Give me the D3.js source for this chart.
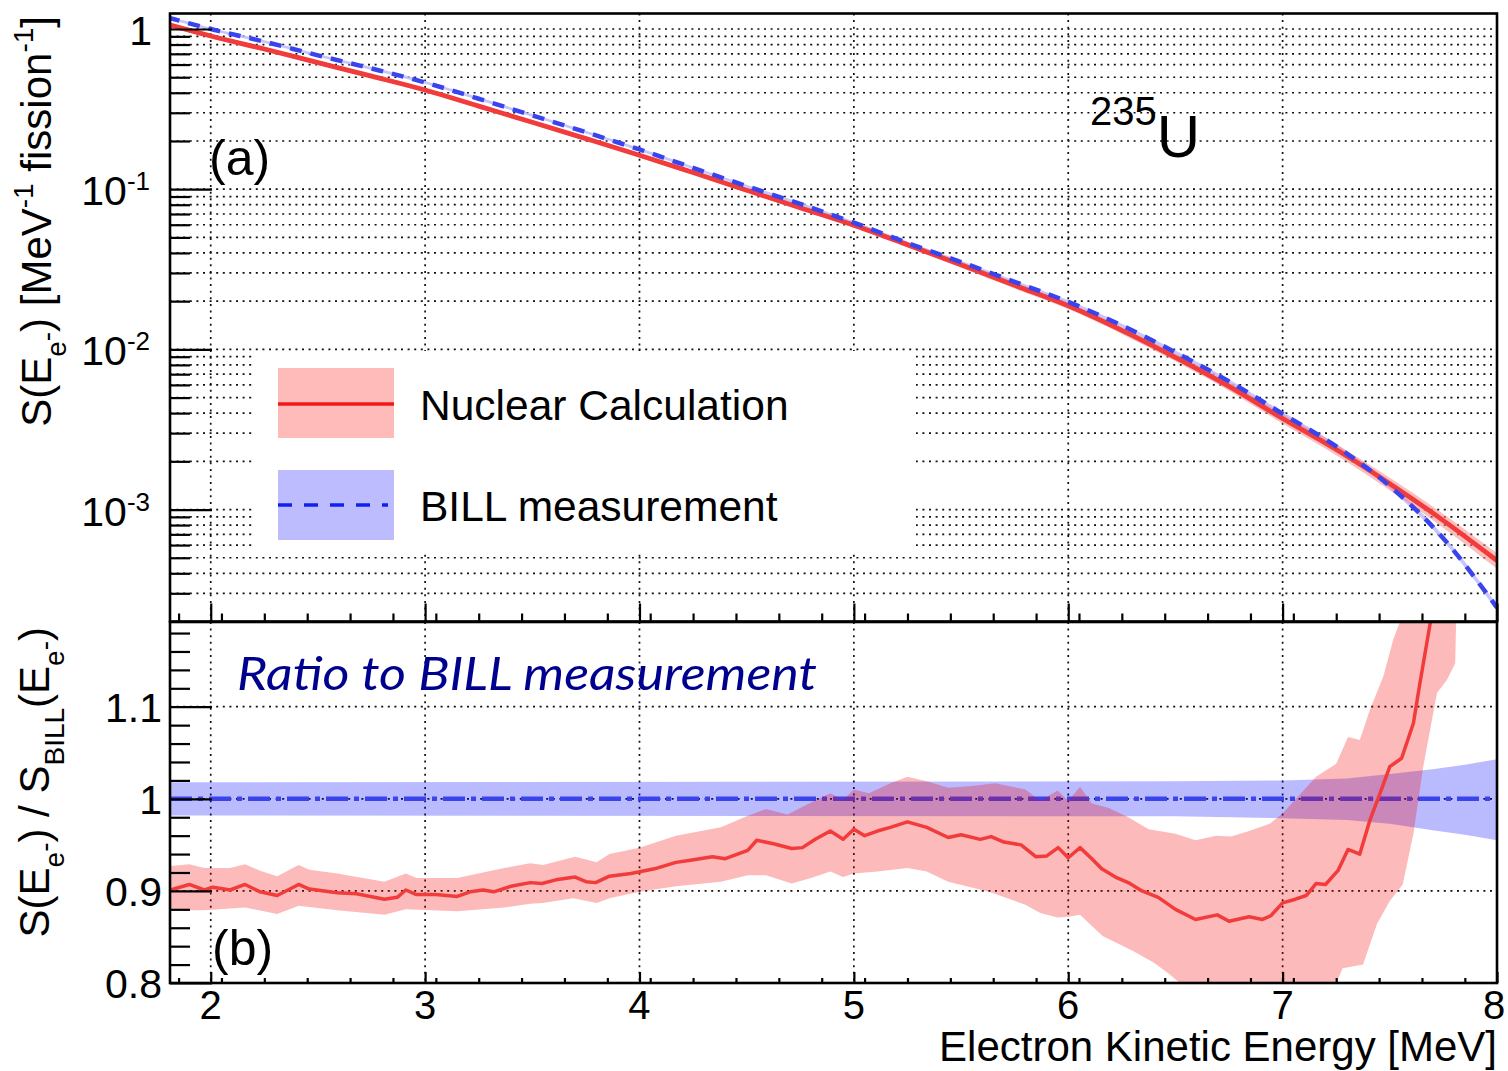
<!DOCTYPE html>
<html>
<head>
<meta charset="utf-8">
<script src="https://cdn.jsdelivr.net/npm/d3@7"></script>
<style>
  body { margin: 0; background: #fff; }
  svg { display: block; }
  text { font-family: "Liberation Sans", Arial, Helvetica, sans-serif; fill: #000; }
</style>
</head>
<body>
<svg id="chart" width="1508" height="1071"></svg>
<script>
// ---------- Electron spectrum (panel a), MeV^-1 fission^-1 ----------
const spectrumEnergy = [1.8, 2.0, 2.25, 2.5, 2.75, 3.0, 3.25, 3.5, 3.75, 4.0, 4.25, 4.5, 4.75,
  5.0, 5.25, 5.5, 5.75, 6.0, 6.25, 6.5, 6.75, 7.0, 7.25, 7.5, 7.75, 8.0];
const nuclearSpectrum = [1.067, 0.904, 0.750, 0.617, 0.508, 0.416, 0.330, 0.262, 0.207, 0.163,
  0.127, 0.0986, 0.0766, 0.0596, 0.0450, 0.0337, 0.0251, 0.0187, 0.01315, 0.00891, 0.00587,
  0.00370, 0.00237, 0.00145, 0.000853, 0.000480];
const billSpectrum = [1.18, 1.00, 0.834, 0.685, 0.567, 0.464, 0.367, 0.289, 0.227, 0.177,
  0.136, 0.1045, 0.0809, 0.0618, 0.0462, 0.0351, 0.0264, 0.0198, 0.0141, 0.00958, 0.00631,
  0.00396, 0.00248, 0.00140, 0.000660, 0.000244];
// relative half-widths of the uncertainty bands, percent
const nuclearBandPct = [3, 3, 3, 3, 3, 3, 3, 3, 3, 3, 3, 3.2, 3.4, 3.6, 3.8, 4, 4.3, 4.6, 5,
  5.5, 6, 7, 8, 9, 10, 11];
const billBandPct = [2, 2, 2, 2, 2, 2, 2, 2, 2, 2, 2, 2, 2, 2, 2, 2, 2, 2.2, 2.4, 2.6, 2.8, 3,
  3.3, 3.6, 4, 4.5];

// ---------- Ratio to BILL (panel b): [energy, ratio] ----------
const ratioLine = [[1.81,0.901],[1.90,0.907],[1.97,0.901],[2.01,0.904],[2.09,0.901],[2.16,0.907],
  [2.23,0.899],[2.31,0.895],[2.41,0.907],[2.46,0.902],[2.59,0.898],[2.68,0.897],[2.81,0.891],
  [2.87,0.893],[2.91,0.901],[2.96,0.896],[3.05,0.896],[3.15,0.894],[3.21,0.899],[3.27,0.901],
  [3.32,0.899],[3.40,0.905],[3.49,0.909],[3.545,0.908],[3.61,0.912],[3.70,0.915],[3.75,0.910],
  [3.795,0.909],[3.86,0.916],[3.96,0.919],[4.07,0.924],[4.17,0.931],[4.23,0.933],[4.34,0.937],
  [4.40,0.935],[4.505,0.944],[4.547,0.955],[4.63,0.951],[4.71,0.946],[4.76,0.947],[4.82,0.956],
  [4.89,0.965],[4.95,0.956],[5.0,0.967],[5.05,0.960],[5.11,0.965],[5.17,0.969],[5.25,0.975],
  [5.34,0.969],[5.44,0.958],[5.50,0.961],[5.59,0.956],[5.64,0.959],[5.70,0.953],[5.78,0.950],
  [5.85,0.937],[5.90,0.938],[5.953,0.947],[6.0,0.936],[6.055,0.947],[6.11,0.935],[6.156,0.924],
  [6.22,0.915],[6.28,0.909],[6.344,0.900],[6.42,0.893],[6.5,0.880],[6.594,0.869],[6.695,0.874],
  [6.75,0.867],[6.844,0.872],[6.906,0.869],[6.945,0.873],[7.0,0.887],[7.06,0.891],[7.11,0.895],
  [7.156,0.908],[7.20,0.907],[7.258,0.922],[7.305,0.945],[7.36,0.940],[7.406,0.976],[7.453,1.005],
  [7.5,1.035],[7.555,1.044],[7.61,1.082],[7.64,1.125],[7.69,1.193],[7.72,1.24]];
const ratioBandUpper = [[1.81,0.927],[1.90,0.929],[1.97,0.925],[2.09,0.925],[2.16,0.929],[2.23,0.922],
  [2.31,0.916],[2.41,0.928],[2.46,0.923],[2.59,0.919],[2.81,0.910],[2.91,0.919],[2.96,0.914],
  [3.15,0.914],[3.27,0.920],[3.37,0.925],[3.49,0.930],[3.55,0.928],[3.70,0.937],[3.80,0.931],
  [3.86,0.940],[4.0,0.947],[4.17,0.960],[4.38,0.969],[4.50,0.981],[4.59,0.989],[4.69,0.983],
  [4.80,0.996],[4.89,1.006],[4.95,0.999],[5.0,1.010],[5.07,1.006],[5.17,1.017],[5.25,1.024],
  [5.34,1.019],[5.44,1.012],[5.55,1.014],[5.66,1.017],[5.80,1.010],[5.87,0.998],[5.95,1.009],
  [6.0,0.998],[6.055,1.013],[6.11,0.995],[6.19,0.990],[6.28,0.980],[6.375,0.967],[6.5,0.962],
  [6.594,0.955],[6.69,0.960],[6.76,0.959],[6.844,0.965],[6.94,0.973],[7.0,0.984],[7.09,1.007],
  [7.156,1.024],[7.25,1.038],[7.305,1.067],[7.36,1.064],[7.406,1.096],[7.47,1.133],[7.516,1.173],
  [7.56,1.20],[7.6,1.25]];
const ratioBandLower = [[1.81,0.879],[1.97,0.879],[2.16,0.882],[2.31,0.875],[2.41,0.884],[2.59,0.879],
  [2.81,0.874],[2.91,0.880],[3.15,0.878],[3.37,0.882],[3.49,0.886],[3.55,0.887],[3.69,0.892],
  [3.80,0.887],[3.86,0.892],[4.0,0.899],[4.17,0.905],[4.38,0.910],[4.505,0.917],[4.59,0.917],
  [4.71,0.908],[4.80,0.914],[4.89,0.921],[4.95,0.915],[5.0,0.919],[5.11,0.921],[5.25,0.925],
  [5.34,0.921],[5.44,0.910],[5.63,0.899],[5.80,0.885],[5.87,0.876],[5.95,0.871],[6.0,0.872],
  [6.055,0.874],[6.16,0.851],[6.30,0.835],[6.40,0.822],[6.47,0.810],[6.52,0.800],[6.6,0.77],
  [7.2,0.77],[7.25,0.80],[7.28,0.816],[7.375,0.82],[7.44,0.864],[7.5,0.889],[7.56,0.907],
  [7.61,0.962],[7.656,1.035],[7.72,1.115],[7.766,1.129],[7.805,1.147],[7.81,1.20],[7.83,1.25]];
const billRatioUpper = [[1.8,1.018],[6.5,1.019],[7.0,1.020],[7.3,1.022],[7.5,1.027],[7.7,1.032],
  [7.85,1.037],[8.0,1.043]];
const billRatioLower = [[1.8,0.982],[6.5,0.981],[7.0,0.979],[7.3,0.977],[7.5,0.973],[7.7,0.966],
  [7.85,0.961],[8.0,0.955]];

// ---------- Axes ----------
const energyTicks = [2, 3, 4, 5, 6, 7, 8];
const spectrumTickLabels = [
  { v: 1, base: "1", exp: "" },
  { v: 0.1, base: "10", exp: "-1" },
  { v: 0.01, base: "10", exp: "-2" },
  { v: 0.001, base: "10", exp: "-3" }
];
const ratioTicks = [0.8, 0.9, 1, 1.1];
const ratioTickLabels = ["0.8", "0.9", "1", "1.1"];
const legendLabels = ["Nuclear Calculation", "BILL measurement"];

const RED = "#f23b3b", PINK = "#ffbaba", BLUE = "#3a44ee", LIGHTBLUE = "#bcbcff";

const svg = d3.select("#chart");
const L = 170, R = 1497;
const topT = 13.5, topB = 621.5, botT = 622, botB = 983;

const x = d3.scaleLinear().domain([1.81, 8]).range([L, R]);
const yTop = d3.scaleLog().domain([2e-4, 1.25]).range([topB, topT]);
const yBot = d3.scaleLinear().domain([0.8, 1.192]).range([botB, botT]);

const defs = svg.append("defs");
defs.append("clipPath").attr("id", "clipTop")
  .append("rect").attr("x", L).attr("y", topT).attr("width", R - L).attr("height", topB - topT);
defs.append("clipPath").attr("id", "clipBot")
  .append("rect").attr("x", L).attr("y", botT).attr("width", R - L).attr("height", botB - botT);

// log tick values inside the spectrum range
const logMajor = [1e-3, 1e-2, 1e-1, 1];
const logAll = [];
for (let d = -4; d <= 0; d++) for (let k = 1; k <= 9; k++) {
  const v = k * Math.pow(10, d);
  if (v > 2.01e-4 && v < 1.25) logAll.push(v);
}
const logMinor = logAll.filter(v => !logMajor.some(m => Math.abs(m - v) / m < 1e-6));
const minorEnergy = d3.range(1.85, 8.0, 0.2).map(v => +v.toFixed(2)).filter(v => !energyTicks.includes(Math.round(v * 10) / 10) && v > 1.81);
const ratioMinor = d3.range(0.82, 1.19, 0.02).map(v => +v.toFixed(2)).filter(v => !ratioTicks.some(t => Math.abs(t - v) < 1e-6));

const gridStyle = g => g.attr("stroke", "#111").attr("stroke-width", 1.7)
  .attr("stroke-dasharray", "2,4.6").attr("fill", "none");

// ================= Panel (a) =================
const gA = svg.append("g");
const gridA = gA.append("g").call(gridStyle);
gridA.selectAll("line.h").data(logAll).join("line").attr("class", "h")
  .attr("x1", L).attr("x2", R).attr("y1", d => yTop(d)).attr("y2", d => yTop(d));
gridA.selectAll("line.v").data(energyTicks.filter(t => t < 8)).join("line").attr("class", "v")
  .attr("x1", d => x(d)).attr("x2", d => x(d)).attr("y1", topT).attr("y2", topB);

const plotA = gA.append("g").attr("clip-path", "url(#clipTop)");
const specRows = spectrumEnergy.map((e, i) => ({
  e, nuc: nuclearSpectrum[i], bill: billSpectrum[i],
  nucPct: nuclearBandPct[i], billPct: billBandPct[i]
}));

plotA.append("path").datum(specRows)
  .attr("fill", LIGHTBLUE).attr("opacity", 0.85)
  .attr("d", d3.area().curve(d3.curveMonotoneX).x(d => x(d.e))
    .y0(d => yTop(d.bill * (1 - d.billPct / 100))).y1(d => yTop(d.bill * (1 + d.billPct / 100))));
plotA.append("path").datum(specRows)
  .attr("fill", "#f58a8a").attr("opacity", 0.55)
  .attr("d", d3.area().curve(d3.curveMonotoneX).x(d => x(d.e))
    .y0(d => yTop(d.nuc * (1 - d.nucPct / 100))).y1(d => yTop(d.nuc * (1 + d.nucPct / 100))));
plotA.append("path").datum(specRows)
  .attr("fill", "none").attr("stroke", RED).attr("stroke-width", 4.8)
  .attr("d", d3.line().curve(d3.curveMonotoneX).x(d => x(d.e)).y(d => yTop(d.nuc)));
plotA.append("path").datum(specRows)
  .attr("fill", "none").attr("stroke", BLUE).attr("stroke-width", 4.5)
  .attr("stroke-dasharray", "12,9")
  .attr("d", d3.line().curve(d3.curveMonotoneX).x(d => x(d.e)).y(d => yTop(d.bill)));

// legend
const leg = gA.append("g");
leg.append("rect").attr("x", 252).attr("y", 351).attr("width", 664).attr("height", 199).attr("fill", "#fff");
leg.append("rect").attr("x", 278).attr("y", 368).attr("width", 116).attr("height", 70).attr("fill", PINK);
leg.append("line").attr("x1", 278).attr("x2", 394).attr("y1", 404).attr("y2", 404)
  .attr("stroke", "#f01818").attr("stroke-width", 3.5);
leg.append("rect").attr("x", 278).attr("y", 470).attr("width", 116).attr("height", 70).attr("fill", LIGHTBLUE);
leg.append("line").attr("x1", 278).attr("x2", 388).attr("y1", 505).attr("y2", 505)
  .attr("stroke", "#1020f0").attr("stroke-width", 3.5).attr("stroke-dasharray", "14,12");
leg.selectAll("text").data(legendLabels).join("text")
  .attr("x", 420).attr("y", (d, i) => 420 + i * 101)
  .attr("font-size", 42.5).text(d => d);

// axes (inward ticks)
const tickStyle = g => { g.select(".domain").remove(); g.selectAll("line").attr("stroke", "#000").attr("stroke-width", 2.2); };
gA.append("g").attr("transform", `translate(${L},0)`)
  .call(d3.axisRight(yTop).tickValues(logMajor).tickSize(42).tickFormat("")).call(tickStyle);
gA.append("g").attr("transform", `translate(${L},0)`)
  .call(d3.axisRight(yTop).tickValues(logMinor).tickSize(20).tickFormat("")).call(tickStyle);
gA.append("g").attr("transform", `translate(0,${topB})`)
  .call(d3.axisTop(x).tickValues(energyTicks).tickSize(18).tickFormat("")).call(tickStyle);
gA.append("g").attr("transform", `translate(0,${topB})`)
  .call(d3.axisTop(x).tickValues(minorEnergy).tickSize(8).tickFormat("")).call(tickStyle);

// y tick labels with exponents
const yLab = gA.append("g").attr("font-size", 41).attr("text-anchor", "end");
spectrumTickLabels.forEach(t => {
  const tx = yLab.append("text").attr("x", t.exp ? 150 : 152).attr("y", yTop(t.v) + 16);
  tx.append("tspan").text(t.base);
  if (t.exp) tx.append("tspan").attr("font-size", 26).attr("dy", -15).text(t.exp);
});

gA.append("rect").attr("x", L).attr("y", topT).attr("width", R - L).attr("height", topB - topT)
  .attr("fill", "none").attr("stroke", "#000").attr("stroke-width", 2.6);

// panel labels
gA.append("text").attr("x", 209).attr("y", 175).attr("font-size", 50).text("(a)");
const iso = gA.append("text").attr("x", 1090).attr("y", 157);
iso.append("tspan").attr("font-size", 40).attr("dy", -32).text("235");
iso.append("tspan").attr("font-size", 60).attr("dy", 32).text("U");

// y title (a)
const tA = svg.append("text").attr("font-size", 42).attr("text-anchor", "end")
  .attr("transform", "translate(51,16) rotate(-90)");
tA.append("tspan").text("S(E");
tA.append("tspan").attr("font-size", 28).attr("dy", 15).text("e");
tA.append("tspan").attr("font-size", 28).attr("dy", -10).text("-");
tA.append("tspan").attr("dy", -5).text(") [MeV");
tA.append("tspan").attr("font-size", 28).attr("dy", -18).text("-1");
tA.append("tspan").attr("dy", 18).text(" fission");
tA.append("tspan").attr("font-size", 28).attr("dy", -18).text("-1");
tA.append("tspan").attr("dy", 18).text("]");

// ================= Panel (b) =================
const gB = svg.append("g");
const gridB = gB.append("g").call(gridStyle);
gridB.selectAll("line.h").data([0.9, 1.0, 1.1]).join("line").attr("class", "h")
  .attr("x1", L).attr("x2", R).attr("y1", d => yBot(d)).attr("y2", d => yBot(d));
gridB.selectAll("line.v").data(energyTicks.filter(t => t < 8)).join("line").attr("class", "v")
  .attr("x1", d => x(d)).attr("x2", d => x(d)).attr("y1", botT).attr("y2", botB);

const plotB = gB.append("g").attr("clip-path", "url(#clipBot)");
const bandPath = (upper, lower) => d3.line().x(d => x(d[0])).y(d => yBot(d[1]))(upper.concat(lower.slice().reverse())) + "Z";

plotB.append("path").attr("d", bandPath(billRatioUpper, billRatioLower))
  .attr("fill", "rgb(0,0,255)").attr("fill-opacity", 0.27);
plotB.append("path").datum([[1.81, 1], [8, 1]])
  .attr("d", d3.line().x(d => x(d[0])).y(d => yBot(d[1])))
  .attr("stroke", BLUE).attr("stroke-width", 4.5).attr("fill", "none")
  .attr("stroke-dasharray", "22,6,5,6");
plotB.append("path").attr("d", bandPath(ratioBandUpper, ratioBandLower))
  .attr("fill", "rgb(245,0,0)").attr("fill-opacity", 0.27);
plotB.append("path").datum(ratioLine)
  .attr("d", d3.line().x(d => x(d[0])).y(d => yBot(d[1])))
  .attr("stroke", RED).attr("stroke-width", 3.5).attr("fill", "none")
  .attr("stroke-linejoin", "round");

gB.append("g").attr("transform", `translate(${L},0)`)
  .call(d3.axisRight(yBot).tickValues(ratioTicks).tickSize(42).tickFormat("")).call(tickStyle);
gB.append("g").attr("transform", `translate(${L},0)`)
  .call(d3.axisRight(yBot).tickValues(ratioMinor).tickSize(20).tickFormat("")).call(tickStyle);
gB.append("g").attr("transform", `translate(0,${botB})`)
  .call(d3.axisTop(x).tickValues(energyTicks).tickSize(11).tickFormat("")).call(tickStyle);
gB.append("g").attr("transform", `translate(0,${botB})`)
  .call(d3.axisTop(x).tickValues(minorEnergy).tickSize(5).tickFormat("")).call(tickStyle);

gB.append("g").attr("font-size", 41).attr("text-anchor", "end")
  .selectAll("text").data(ratioTicks).join("text")
  .attr("x", 162).attr("y", d => yBot(d) + 15).text((d, i) => ratioTickLabels[i]);
gB.append("g").attr("font-size", 40).attr("text-anchor", "middle")
  .selectAll("text").data(energyTicks).join("text")
  .attr("x", d => Math.min(x(d), R - 3)).attr("y", 1019).text(d => d);

gB.append("rect").attr("x", L).attr("y", botT).attr("width", R - L).attr("height", botB - botT)
  .attr("fill", "none").attr("stroke", "#000").attr("stroke-width", 2.6);

gB.append("text").attr("x", 212).attr("y", 965).attr("font-size", 50).text("(b)");
gB.append("text").attr("x", 237).attr("y", 690)
  .style("font-family", "Lato, 'Open Sans', sans-serif").style("font-style", "italic")
  .attr("font-size", 47).attr("textLength", 580).attr("lengthAdjust", "spacingAndGlyphs")
  .style("fill", "#00008f").text("Ratio to BILL measurement");

// y title (b)
const tB = svg.append("text").attr("font-size", 42).attr("text-anchor", "end")
  .attr("transform", "translate(49,627) rotate(-90)");
tB.append("tspan").text("S(E");
tB.append("tspan").attr("font-size", 28).attr("dy", 15).text("e");
tB.append("tspan").attr("font-size", 28).attr("dy", -10).text("-");
tB.append("tspan").attr("dy", -5).text(") / S");
tB.append("tspan").attr("font-size", 28).attr("dy", 15).text("BILL");
tB.append("tspan").attr("dy", -15).text("(E");
tB.append("tspan").attr("font-size", 28).attr("dy", 15).text("e");
tB.append("tspan").attr("font-size", 28).attr("dy", -10).text("-");
tB.append("tspan").attr("dy", -5).text(")");

// x title
svg.append("text").attr("x", R).attr("y", 1061).attr("text-anchor", "end")
  .attr("font-size", 42).text("Electron Kinetic Energy [MeV]");
</script>
</body>
</html>
